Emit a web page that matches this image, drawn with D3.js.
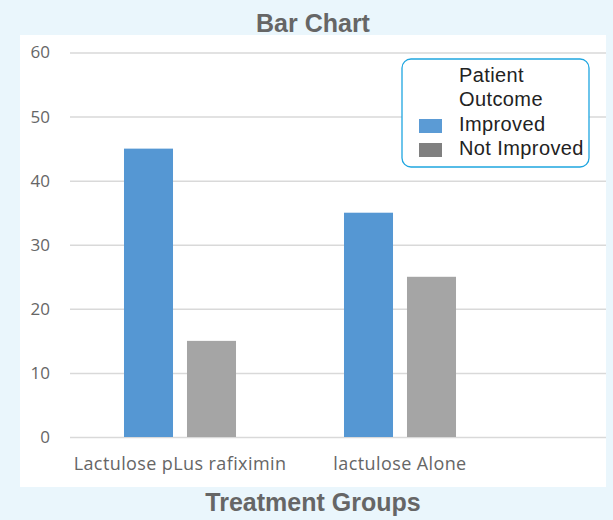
<!DOCTYPE html>
<html><head><meta charset="utf-8">
<script src="https://cdn.jsdelivr.net/npm/d3@7"></script>
<style>body{margin:0;background:#eaf6fc;}svg{display:block;}</style>
</head><body>
<svg id="c" width="613" height="520"></svg>
<script>
const categories = ["Lactulose pLus rafiximin", "lactulose Alone"];
const seriesNames = ["Improved", "Not Improved"];
const improved = [45, 35];
const notImproved = [15, 25];
const yTicks = [0, 10, 20, 30, 40, 50, 60];
const barColors = ["#5597d3", "#a5a5a5"];
const legendColors = ["#5b9bd5", "#808080"];

const svg = d3.select("#c");
svg.append("rect").attr("width",613).attr("height",520).attr("fill","#eaf6fc");
svg.append("rect").attr("x",20).attr("y",35).attr("width",586).attr("height",452).attr("fill","#ffffff");

const x = d3.scaleBand().domain(categories).range([70, 510]).paddingInner(0).paddingOuter(0);
const xs = d3.scaleBand().domain(seriesNames).range([0, x.bandwidth()]).paddingInner(0.222).paddingOuter(0.857);
const y = d3.scaleLinear().domain([0, 60]).range([437, 52.5]);

// grid
const gAxis = svg.append("g").attr("transform","translate(70,0)")
  .call(d3.axisLeft(y).tickValues(yTicks).tickSize(-536).tickPadding(20).tickFormat(d3.format("d")));
gAxis.select(".domain").remove();
gAxis.selectAll(".tick line").attr("stroke","#d9d9d9").attr("stroke-width",1.5);
gAxis.selectAll(".tick text").attr("fill","#666666").attr("font-family","'Open Sans', sans-serif").attr("font-size",17);

const data = categories.map((c,i)=>({cat:c, vals:[improved[i], notImproved[i]]}));
const groups = svg.append("g").selectAll("g").data(data).join("g")
  .attr("transform", d=>`translate(${x(d.cat)},0)`);
groups.selectAll("rect").data(d=>d.vals.map((v,j)=>({s:seriesNames[j], v, j})))
  .join("rect")
  .attr("x", d=>xs(d.s)).attr("width", xs.bandwidth())
  .attr("y", d=>y(d.v)).attr("height", d=>y(0)-y(d.v))
  .attr("fill", d=>barColors[d.j]);

// category labels
svg.append("g").selectAll("text").data(categories).join("text")
  .attr("x", d=>x(d)+x.bandwidth()/2).attr("y", 465)
  .attr("text-anchor","middle").attr("dominant-baseline","middle")
  .attr("fill","#666666").attr("font-family","'Open Sans', sans-serif").attr("font-size",18)
  .attr("letter-spacing",0.4)
  .text(d=>d);

// titles
const tf = "'Liberation Sans', Arial, sans-serif";
svg.append("text").attr("x",313).attr("y",25).attr("text-anchor","middle").attr("dominant-baseline","middle")
  .attr("font-family",tf).attr("font-weight","bold").attr("font-size",25)
  .attr("fill","#666666").text("Bar Chart");
svg.append("text").attr("x",313).attr("y",504).attr("text-anchor","middle").attr("dominant-baseline","middle")
  .attr("font-family",tf).attr("font-weight","bold").attr("font-size",25)
  .attr("fill","#666666").text("Treatment Groups");

// legend
const lg = svg.append("g");
lg.append("rect").attr("x",402).attr("y",59).attr("width",187).attr("height",108).attr("rx",9)
  .attr("fill","#ffffff").attr("stroke","#1fa6e0").attr("stroke-width",1.3);
["Patient","Outcome"].forEach((t,i)=>{
  lg.append("text").attr("x",459).attr("y",77+i*24).attr("dominant-baseline","middle")
    .attr("font-family",tf).attr("font-size",20).attr("letter-spacing",0.4).attr("fill","#222").text(t);
});
seriesNames.forEach((s,i)=>{
  lg.append("rect").attr("x",419).attr("y",119+i*24).attr("width",23).attr("height",14).attr("fill",legendColors[i]);
  lg.append("text").attr("x",459).attr("y",126+i*24).attr("dominant-baseline","middle")
    .attr("font-family",tf).attr("font-size",20).attr("letter-spacing",0.4).attr("fill","#222").text(s);
});
</script>
</body></html>
